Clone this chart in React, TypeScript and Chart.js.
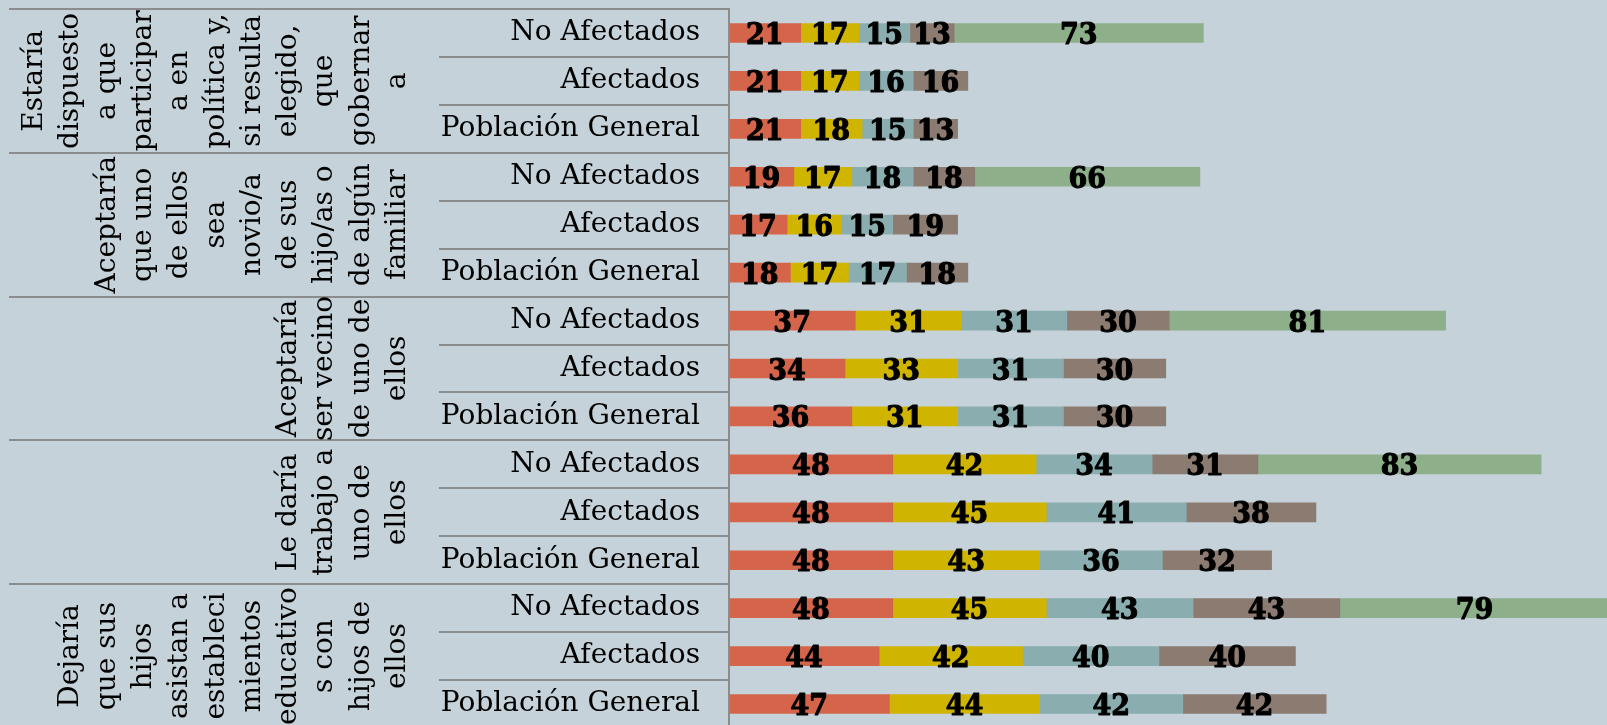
import React, { useEffect, useRef } from "react";
import { Chart, registerables } from "chart.js";

Chart.register(...registerables);

const subCategories = ["No Afectados", "Afectados", "Población General"];
const categories = [
  ...subCategories, ...subCategories, ...subCategories, ...subCategories, ...subCategories,
];

const groupLines: string[][] = [
  ["Estaría", "dispuesto", "a que", "participar", "a en", "política y,", "si resulta", "elegido,", "que", "gobernar", "a"],
  ["Aceptaría", "que uno", "de ellos", "sea", "novio/a", "de sus", "hijo/as o", "de algún", "familiar"],
  ["Aceptaría", "ser vecino", "de uno de", "ellos"],
  ["Le daría", "trabajo a", "uno de", "ellos"],
  ["Dejaría", "que sus", "hijos", "asistan a", "estableci", "mientos", "educativo", "s con", "hijos de", "ellos"],
];

const serie1 = [21, 21, 21, 19, 17, 18, 37, 34, 36, 48, 48, 48, 48, 44, 47];
const serie2 = [17, 17, 18, 17, 16, 17, 31, 33, 31, 42, 45, 43, 45, 42, 44];
const serie3 = [15, 16, 15, 18, 15, 17, 31, 31, 31, 34, 41, 36, 43, 40, 42];
const serie4 = [13, 16, 13, 18, 19, 18, 30, 30, 30, 31, 38, 32, 43, 40, 42];
const serie5 = [73, null, null, 66, null, null, 81, null, null, 83, null, null, 79, null, null];

const seriesColors = ["#d4654b", "#cfb400", "#8aaeb0", "#8c7b71", "#8daf8a"];
const BG = "#c6d2d9";
const LINE = "#8a8c8e";

export default function App() {
  const ref = useRef<HTMLCanvasElement | null>(null);

  useEffect(() => {
    document.body.style.margin = "0";
    document.body.style.background = BG;
    const canvas = ref.current;
    if (!canvas) return;

    const bgPlugin = {
      id: "bg",
      beforeDraw(chart: any) {
        const ctx = chart.ctx;
        ctx.save();
        ctx.fillStyle = BG;
        ctx.fillRect(0, 0, chart.width, chart.height);
        ctx.restore();
      },
    };

    const decoPlugin = {
      id: "deco",
      afterDraw(chart: any) {
        const ctx = chart.ctx;
        const y = chart.scales.y;
        const area = chart.chartArea;
        const n = categories.length;
        const step = (y.getPixelForValue(n - 1) - y.getPixelForValue(0)) / (n - 1);
        const top = y.getPixelForValue(0) - step / 2;
        ctx.save();
        ctx.strokeStyle = LINE;
        ctx.lineWidth = 2;
        for (let i = 0; i <= n; i++) {
          const yy = Math.round(top + i * step);
          const x0 = i % 3 === 0 ? 9 : 439;
          ctx.beginPath();
          ctx.moveTo(x0, yy);
          ctx.lineTo(area.left, yy);
          ctx.stroke();
        }
        ctx.beginPath();
        ctx.moveTo(area.left, top - 1);
        ctx.lineTo(area.left, chart.height);
        ctx.stroke();

        ctx.fillStyle = "#000";
        ctx.font = "28px 'DejaVu Serif'";
        ctx.textAlign = "center";
        ctx.textBaseline = "alphabetic";
        const lineH = 36.3;
        groupLines.forEach((lines, g) => {
          const cy = top + (g * 3 + 1.5) * step;
          const nl = lines.length;
          lines.forEach((txt, k) => {
            const bx = 405 - (nl - 1 - k) * lineH;
            ctx.save();
            ctx.translate(bx, cy);
            ctx.rotate(-Math.PI / 2);
            ctx.fillText(txt, 0, 0);
            ctx.restore();
          });
        });
        ctx.restore();
      },
    };

    const labelPlugin = {
      id: "vals",
      afterDatasetsDraw(chart: any) {
        const ctx = chart.ctx;
        ctx.save();
        ctx.fillStyle = "#000";
        ctx.strokeStyle = "#000";
        ctx.lineWidth = 1;
        ctx.lineJoin = "round";
        ctx.font = "bold 30px 'DejaVu Serif Condensed', 'DejaVu Serif'";
        try {
          (ctx as any).fontStretch = "condensed";
        } catch (e) {}
        ctx.textAlign = "center";
        ctx.textBaseline = "alphabetic";
        chart.data.datasets.forEach((ds: any, di: number) => {
          const meta = chart.getDatasetMeta(di);
          meta.data.forEach((el: any, i: number) => {
            const v = ds.data[i];
            if (v === null || v === undefined) return;
            const p = el.getProps(["x", "y", "base"], true);
            const cx = (p.x + p.base) / 2;
            ctx.fillText(String(v), cx, p.y + 11);
            ctx.strokeText(String(v), cx, p.y + 11);
          });
        });
        ctx.restore();
      },
    };

    const series = [serie1, serie2, serie3, serie4, serie5];
    const chart = new Chart(canvas, {
      type: "bar",
      data: {
        labels: categories,
        datasets: series.map((d, i) => ({
          label: "S" + (i + 1),
          data: d,
          backgroundColor: seriesColors[i],
          borderWidth: 0,
          barThickness: 19,
        })),
      },
      options: {
        indexAxis: "y",
        animation: false,
        responsive: false,
        devicePixelRatio: 1,
        layout: { padding: { top: 9, left: 0, right: 0, bottom: 0 } },
        plugins: {
          legend: { display: false },
          tooltip: { enabled: false },
          title: { display: false },
        },
        scales: {
          x: {
            stacked: true,
            display: false,
            min: 0,
            max: 257.3,
          },
          y: {
            stacked: true,
            grid: { display: false, drawTicks: false },
            border: { display: false },
            ticks: {
              color: "#000",
              font: { family: "'DejaVu Serif'", size: 28 },
              padding: 29,
              autoSkip: false,
            },
            afterFit: (s: any) => {
              s.width = 729;
              s.paddingTop = 0;
              s.paddingBottom = 0;
            },
          },
        },
      } as any,
      plugins: [bgPlugin, labelPlugin, decoPlugin],
    });
    return () => chart.destroy();
  }, []);

  return (
    <div style={{ width: 1607, height: 725, overflow: "hidden", background: BG }}>
      <canvas ref={ref} width={1607} height={728} style={{ width: 1607, height: 728, display: "block" }} />
    </div>
  );
}
